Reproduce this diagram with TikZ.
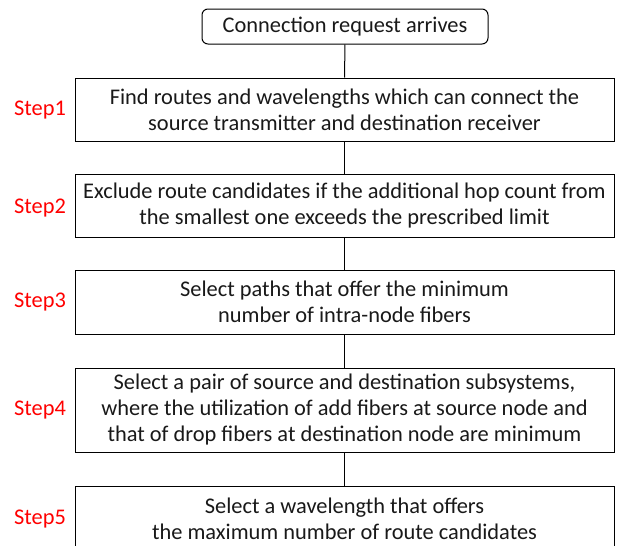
\documentclass[tikz,border=0pt]{standalone}
\usepackage{fontspec}
\setmainfont{Carlito}
\begin{document}
\begin{tikzpicture}[x=1pt,y=-1pt,
  stepbox/.style={draw=black, line width=1pt, minimum width=539pt, inner sep=0pt, align=center, font=\fontsize{22.4}{26}\selectfont, text=black!90},
  startbox/.style={draw=black, line width=1pt, rounded corners=6pt, minimum width=286pt, minimum height=35pt, inner sep=0pt, font=\fontsize{22.4}{26}\selectfont, text=black!90},
  steplabel/.style={text=red, font=\fontsize{22.4}{26}\selectfont, inner sep=0pt},
  link/.style={line width=1pt, draw=black}]
\clip (0,0) rectangle (619,546);
\fill[white] (0,0) rectangle (619,546);
\node[startbox] (s) at (345,26.5) {Connection request arrives};
\node[stepbox, minimum height=63pt] (b1) at (344.5,109.5) {Find routes and wavelengths which can connect the\\source transmitter and destination receiver};
\node[stepbox, minimum height=63pt] (b2) at (344.5,205.5) {Exclude route candidates if the additional hop count from\\the smallest one exceeds the prescribed limit};
\node[stepbox, minimum height=64pt] (b3) at (344.5,302) {Select paths that offer the minimum\\number of intra-node fibers};
\node[stepbox, minimum height=84pt] (b4) at (344.5,410) {Select a pair of source and destination subsystems,\\where the utilization of add fibers at source node and\\that of drop fibers at destination node are minimum};
\node[stepbox, minimum height=66pt] (b5) at (344.5,519) {Select a wavelength that offers\\the maximum number of route candidates};
\node[steplabel] (l1) at (40,110) {Step1};
\node[steplabel] (l2) at (40,208) {Step2};
\node[steplabel] (l3) at (40,302) {Step3};
\node[steplabel] (l4) at (40,410) {Step4};
\node[steplabel] (l5) at (40,519) {Step5};
\draw[link] (s.south) -- (b1.north);
\draw[link] (b1.south) -- (b2.north);
\draw[link] (b2.south) -- (b3.north);
\draw[link] (b3.south) -- (b4.north);
\draw[link] (b4.south) -- (b5.north);
\end{tikzpicture}
\end{document}
